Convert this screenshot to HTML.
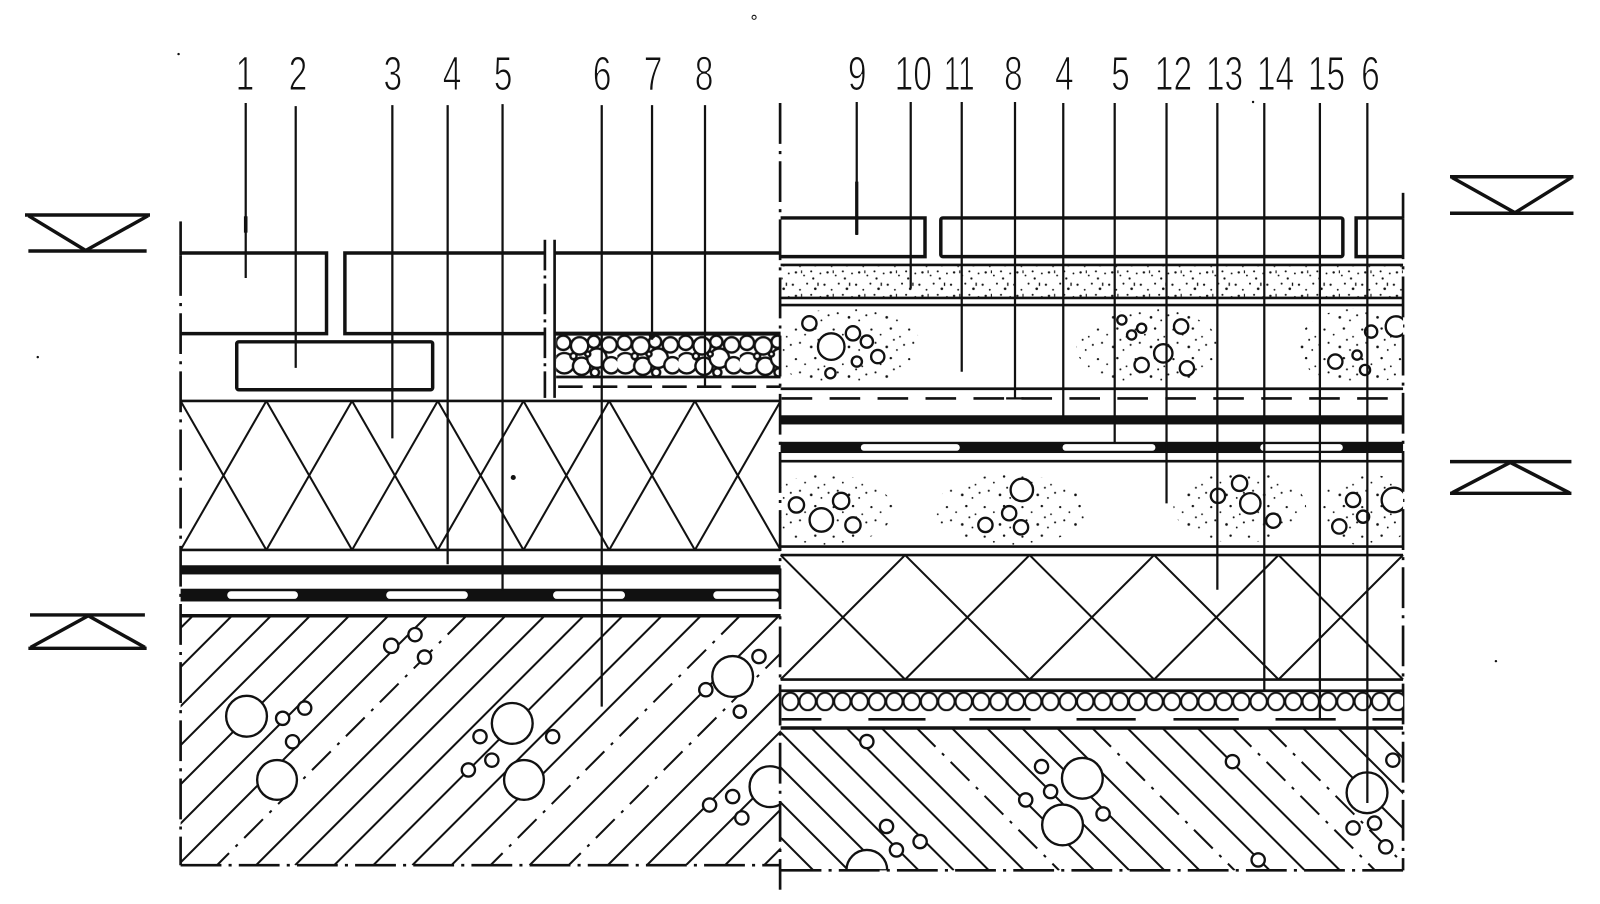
<!DOCTYPE html>
<html><head><meta charset="utf-8">
<style>
html,body{margin:0;padding:0;background:#fff;}
svg{display:block}
.s{stroke:#111;fill:none;stroke-width:2.6}
.t{stroke:#111;fill:none;stroke-width:3.4}
.l{stroke:#111;fill:none;stroke-width:2.2}
.dd{stroke-dasharray:40 7 3 7}
.h{stroke:#111;stroke-width:2;fill:none}
.hd{stroke:#111;stroke-width:2;fill:none;stroke-dasharray:26 9 3 9}
.c{fill:#fff;stroke:#111;stroke-width:2.3}
.lab{font-family:"Liberation Sans",sans-serif;font-size:47px;fill:#111;text-anchor:middle;stroke:#fff;stroke-width:1.1}
</style></head>
<body>
<svg width="1600" height="904" viewBox="0 0 1568 886" preserveAspectRatio="none" xmlns="http://www.w3.org/2000/svg">
<defs>
 <pattern id="st" x="0" y="0" width="37" height="29" patternUnits="userSpaceOnUse">
  <circle cx="3" cy="4" r="1.1" fill="#111"/><circle cx="12" cy="9" r="0.9" fill="#111"/>
  <circle cx="22" cy="3" r="1.2" fill="#111"/><circle cx="31" cy="11" r="0.9" fill="#111"/>
  <circle cx="7" cy="17" r="1" fill="#111"/><circle cx="18" cy="21" r="1.3" fill="#111"/>
  <circle cx="28" cy="24" r="0.9" fill="#111"/><circle cx="35" cy="19" r="1" fill="#111"/>
  <circle cx="25" cy="14" r="1" fill="#111"/>
 </pattern>
 <pattern id="sd" x="0" y="0" width="31" height="23" patternUnits="userSpaceOnUse">
  <circle cx="2" cy="3" r="1.1" fill="#111"/><circle cx="9" cy="8" r="0.9" fill="#111"/>
  <circle cx="16" cy="2" r="1" fill="#111"/><circle cx="24" cy="7" r="1.3" fill="#111"/>
  <circle cx="29" cy="15" r="0.9" fill="#111"/><circle cx="5" cy="14" r="1.2" fill="#111"/>
  <circle cx="13" cy="17" r="0.9" fill="#111"/><circle cx="20" cy="13" r="1" fill="#111"/>
  <circle cx="22" cy="20" r="1.1" fill="#111"/>
  <rect x="26" y="1" width="1.3" height="3.2" fill="#111"/><rect x="10" y="12" width="1.1" height="2.8" fill="#111"/>
 </pattern>
 <pattern id="gr" x="545" y="327" width="60" height="42" patternUnits="userSpaceOnUse">
  <rect x="0" y="0" width="60" height="42" fill="#fff"/>
  <g fill="#fff" stroke="#111" stroke-width="2.4">
   <circle cx="7" cy="9" r="7"/><circle cx="8" cy="29" r="10"/>
   <circle cx="23" cy="12" r="8.5"/><circle cx="25" cy="32" r="8.5"/><circle cx="17" cy="22" r="3"/>
   <circle cx="37" cy="8" r="6"/><circle cx="40" cy="24" r="9.5"/><circle cx="38" cy="38" r="4"/>
   <circle cx="52" cy="11" r="7.5"/><circle cx="54" cy="31" r="8"/>
   <circle cx="31" cy="20" r="2.5"/>
  </g>
 </pattern>
 <pattern id="bd" x="766" y="678" width="17" height="19" patternUnits="userSpaceOnUse">
  <ellipse cx="8.5" cy="9.5" rx="8" ry="8.6" fill="#fff" stroke="#111" stroke-width="2"/>
 </pattern>
 <clipPath id="cLC"><rect x="177" y="603.5" width="588" height="244.5"/></clipPath>
 <clipPath id="cRC"><rect x="765" y="713.5" width="610" height="139.5"/></clipPath>
 <clipPath id="c11"><rect x="766" y="300" width="609" height="80"/></clipPath>
 <clipPath id="c12"><rect x="766" y="453" width="609" height="82"/></clipPath>
</defs>

<rect x="0" y="0" width="1568" height="886" fill="#fff"/>

<!-- ===== LABELS ===== -->
<g class="lab">
 <text transform="translate(240,88) scale(0.7,1)">1</text>
 <text transform="translate(292,88) scale(0.7,1)">2</text>
 <text transform="translate(385,88) scale(0.7,1)">3</text>
 <text transform="translate(443,88) scale(0.7,1)">4</text>
 <text transform="translate(493,88) scale(0.7,1)">5</text>
 <text transform="translate(590,88) scale(0.7,1)">6</text>
 <text transform="translate(640,88) scale(0.7,1)">7</text>
 <text transform="translate(690,88) scale(0.7,1)">8</text>
 <text transform="translate(840,88) scale(0.7,1)">9</text>
 <text transform="translate(895,88) scale(0.7,1)">10</text>
 <text transform="translate(940,88) scale(0.62,1)">11</text>
 <text transform="translate(993,88) scale(0.7,1)">8</text>
 <text transform="translate(1043,88) scale(0.7,1)">4</text>
 <text transform="translate(1098,88) scale(0.7,1)">5</text>
 <text transform="translate(1150,88) scale(0.7,1)">12</text>
 <text transform="translate(1200,88) scale(0.7,1)">13</text>
 <text transform="translate(1250,88) scale(0.7,1)">14</text>
 <text transform="translate(1300,88) scale(0.7,1)">15</text>
 <text transform="translate(1343,88) scale(0.7,1)">6</text>
</g>

<!-- ===== LEVEL SYMBOLS ===== -->
<g class="t" stroke-width="3">
 <line x1="24.5" y1="210.7" x2="147" y2="210.7"/>
 <line x1="27.8" y1="246" x2="143.7" y2="246"/>
 <polyline points="28,211.5 84,245.5 145,211.5"/>
 <line x1="29.4" y1="602.7" x2="142" y2="602.7"/>
 <line x1="27.8" y1="635.4" x2="143.7" y2="635.4"/>
 <polyline points="30,634.5 86.5,603.5 142,634.5"/>
 <line x1="1421" y1="173.2" x2="1542" y2="173.2"/>
 <line x1="1421" y1="209" x2="1542" y2="209"/>
 <polyline points="1423,174 1484.7,208.5 1540,174"/>
 <line x1="1421" y1="452.4" x2="1540" y2="452.4"/>
 <line x1="1421" y1="483.5" x2="1540" y2="483.5"/>
 <polyline points="1423,483 1480,453.2 1538,483"/>
</g>
<g fill="#111">
 <circle cx="739" cy="17" r="2" fill="none" stroke="#111" stroke-width="1"/>
 <circle cx="175" cy="53" r="1.2"/><circle cx="37" cy="350" r="1.2"/>
 <circle cx="1466" cy="648" r="1.2"/><circle cx="1228" cy="100" r="1.2"/>
</g>

<!-- ===== LEFT SECTION ===== -->
<line class="s" x1="177" y1="217" x2="177" y2="250"/>
<line class="s dd" x1="177" y1="250" x2="177" y2="848"/>
<polyline class="t" points="177,248 320,248 320,327 177,327"/>
<polyline class="t" points="534,248 338,248 338,327 534,327"/>
<rect class="t" x="232" y="335" width="192" height="47" rx="2"/>
<line class="t" x1="543.5" y1="248" x2="765" y2="248"/>
<line class="s" x1="534" y1="235" x2="534" y2="390" stroke-dasharray="30 5 3 5"/>
<line class="s" x1="543.5" y1="235" x2="543.5" y2="390"/>
<rect x="545" y="327" width="220" height="42" fill="url(#gr)"/>
<line x1="543.5" y1="327" x2="765" y2="327" stroke="#111" stroke-width="4"/>
<line class="s" x1="545" y1="369.5" x2="765" y2="369.5" stroke-width="2"/>
<line class="s" x1="547" y1="379" x2="765" y2="379" stroke-dasharray="24 10"/>
<line class="s" x1="177" y1="393" x2="765" y2="393"/>
<line class="s" x1="177" y1="539" x2="765" y2="539"/>
<g class="h" stroke-width="2.2">
 <line x1="177" y1="393" x2="261" y2="539"/><line x1="261" y1="393" x2="177" y2="539"/>
 <line x1="261" y1="393" x2="345" y2="539"/><line x1="345" y1="393" x2="261" y2="539"/>
 <line x1="345" y1="393" x2="429" y2="539"/><line x1="429" y1="393" x2="345" y2="539"/>
 <line x1="429" y1="393" x2="513" y2="539"/><line x1="513" y1="393" x2="429" y2="539"/>
 <line x1="513" y1="393" x2="597" y2="539"/><line x1="597" y1="393" x2="513" y2="539"/>
 <line x1="597" y1="393" x2="681" y2="539"/><line x1="681" y1="393" x2="597" y2="539"/>
 <line x1="681" y1="393" x2="765" y2="539"/><line x1="765" y1="393" x2="681" y2="539"/>
</g>
<circle cx="503" cy="468" r="2.5" fill="#111"/>
<rect x="177" y="554" width="588" height="9" fill="#111"/>
<rect x="177" y="577" width="588" height="12.5" fill="#111"/>
<g fill="#fff">
 <rect x="222.7" y="579.5" width="69.3" height="7.5" rx="3.7"/>
 <rect x="378.5" y="579.5" width="80" height="7.5" rx="3.7"/>
 <rect x="542" y="579.5" width="70.5" height="7.5" rx="3.7"/>
 <rect x="699" y="579.5" width="64" height="7.5" rx="3.7"/>
</g>
<line class="t" x1="177" y1="603.5" x2="765" y2="603.5" stroke-width="3"/>
<g clip-path="url(#cLC)">
 <line class="h" x1="189" y1="603.5" x2="-55.5" y2="848"/>
 <line class="h" x1="227.3" y1="603.5" x2="-17.2" y2="848"/>
 <line class="h" x1="265.6" y1="603.5" x2="21.1" y2="848"/>
 <line class="h" x1="303.9" y1="603.5" x2="59.4" y2="848"/>
 <line class="h" x1="342.2" y1="603.5" x2="97.7" y2="848"/>
 <line class="h" x1="380.5" y1="603.5" x2="136" y2="848"/>
 <line class="h" x1="418.8" y1="603.5" x2="174.3" y2="848"/>
 <line class="hd" x1="457.1" y1="603.5" x2="212.6" y2="848"/>
 <line class="h" x1="495.4" y1="603.5" x2="250.9" y2="848"/>
 <line class="h" x1="533.7" y1="603.5" x2="289.2" y2="848"/>
 <line class="h" x1="572" y1="603.5" x2="327.5" y2="848"/>
 <line class="h" x1="610.3" y1="603.5" x2="365.8" y2="848"/>
 <line class="h" x1="648.6" y1="603.5" x2="404.1" y2="848"/>
 <line class="h" x1="686.9" y1="603.5" x2="442.4" y2="848"/>
 <line class="hd" x1="725.2" y1="603.5" x2="480.7" y2="848"/>
 <line class="h" x1="763.5" y1="603.5" x2="519" y2="848"/>
 <line class="hd" x1="801.8" y1="603.5" x2="557.3" y2="848"/>
 <line class="h" x1="840.1" y1="603.5" x2="595.6" y2="848"/>
 <line class="h" x1="878.4" y1="603.5" x2="633.9" y2="848"/>
 <line class="h" x1="916.7" y1="603.5" x2="672.2" y2="848"/>
 <line class="h" x1="955" y1="603.5" x2="710.5" y2="848"/>
 <line class="h" x1="993.3" y1="603.5" x2="748.8" y2="848"/>
 <g class="c">
  <circle cx="241.6" cy="702" r="20"/><circle cx="271.5" cy="764.4" r="19.5"/>
  <circle cx="502" cy="709" r="20"/><circle cx="513.5" cy="764.4" r="19.5"/>
  <circle cx="718" cy="663" r="20"/><circle cx="754.6" cy="771" r="20"/>
  <circle cx="277" cy="704" r="6.5"/><circle cx="298.6" cy="694" r="6.5"/><circle cx="286.7" cy="727" r="6.5"/>
  <circle cx="383.4" cy="633" r="7"/><circle cx="406.7" cy="622" r="6.5"/><circle cx="416" cy="644" r="6.5"/>
  <circle cx="470.4" cy="722" r="6.5"/><circle cx="482" cy="745" r="6.5"/><circle cx="459" cy="754.6" r="6.5"/>
  <circle cx="541.6" cy="722" r="6.5"/><circle cx="691.7" cy="676" r="6.5"/><circle cx="743.8" cy="643.5" r="6.5"/>
  <circle cx="725" cy="697.5" r="6"/><circle cx="695.4" cy="789" r="6.5"/><circle cx="718" cy="780.7" r="6.5"/>
  <circle cx="727" cy="801.6" r="6.5"/>
 </g>
</g>
<line class="s dd" x1="177" y1="848" x2="765" y2="848"/>

<!-- ===== RIGHT SECTION ===== -->
<line class="s" x1="1375" y1="189" x2="1375" y2="214"/>
<line class="s dd" x1="1375" y1="214" x2="1375" y2="853"/>
<polyline class="t" points="765,213.6 906.5,213.6 906.5,251.5 765,251.5"/>
<rect class="t" x="922" y="213.6" width="394" height="37.9" rx="2"/>
<polyline class="t" points="1375,213.6 1329,213.6 1329,251.5 1375,251.5"/>
<rect x="766" y="261" width="609" height="30" fill="url(#sd)"/>
<line class="s" x1="765" y1="259.7" x2="1375" y2="259.7" stroke-width="2"/>
<line class="s" x1="765" y1="292" x2="1375" y2="292" stroke-width="2"/>
<line class="s" x1="765" y1="299" x2="1375" y2="299"/>
<g clip-path="url(#c11)">
 <ellipse cx="828" cy="340" rx="75" ry="38" fill="url(#st)"/>
 <ellipse cx="1125" cy="340" rx="70" ry="38" fill="url(#st)"/>
 <ellipse cx="1330" cy="340" rx="58" ry="38" fill="url(#st)"/>
 <g class="c">
  <circle cx="793.2" cy="316.9" r="7"/><circle cx="814.6" cy="339.7" r="13"/><circle cx="835.9" cy="326.7" r="7"/>
  <circle cx="849.5" cy="334.8" r="6"/><circle cx="860.2" cy="349.5" r="6.5"/><circle cx="839.7" cy="354.4" r="5"/>
  <circle cx="813.8" cy="365.8" r="5"/>
  <circle cx="1099.4" cy="313.6" r="4.5"/><circle cx="1118.8" cy="321.7" r="4.5"/><circle cx="1109" cy="328.3" r="4.5"/>
  <circle cx="1157.5" cy="320" r="7"/><circle cx="1140" cy="346.3" r="9"/><circle cx="1118.8" cy="357.7" r="7"/>
  <circle cx="1163.2" cy="361" r="7"/>
  <circle cx="1308.6" cy="354.4" r="7"/><circle cx="1329.9" cy="348" r="4.5"/><circle cx="1337.7" cy="362.6" r="5"/>
  <circle cx="1343.7" cy="325" r="6"/><circle cx="1368" cy="320" r="10"/>
 </g>
</g>
<line class="s" x1="765" y1="381" x2="1375" y2="381"/>
<line class="s" x1="766" y1="390.5" x2="1375" y2="390.5" stroke-dasharray="30 17"/>
<rect x="765" y="407" width="610" height="9" fill="#111"/>
<rect x="765" y="433" width="610" height="11" fill="#111"/>
<g fill="#fff">
 <rect x="843.6" y="435.3" width="97" height="6.5" rx="3.2"/>
 <rect x="1041.3" y="435.3" width="91" height="6.5" rx="3.2"/>
 <rect x="1235" y="435.3" width="81" height="6.5" rx="3.2"/>
</g>
<line class="s" x1="765" y1="452" x2="1375" y2="452"/>
<g clip-path="url(#c12)">
 <ellipse cx="810" cy="500" rx="65" ry="35" fill="url(#st)"/>
 <ellipse cx="990" cy="500" rx="75" ry="35" fill="url(#st)"/>
 <ellipse cx="1215" cy="497" rx="65" ry="35" fill="url(#st)"/>
 <ellipse cx="1340" cy="500" rx="48" ry="35" fill="url(#st)"/>
 <g class="c">
  <circle cx="780.5" cy="494.9" r="7.5"/><circle cx="804.9" cy="509.6" r="11.5"/><circle cx="824.3" cy="491" r="8"/>
  <circle cx="835.9" cy="514.5" r="7.5"/>
  <circle cx="1001.4" cy="480.2" r="11"/><circle cx="989" cy="503" r="7"/><circle cx="1000.6" cy="516.8" r="7"/>
  <circle cx="965.7" cy="514.5" r="7"/>
  <circle cx="1193.6" cy="486" r="7"/><circle cx="1214.8" cy="473.7" r="7.5"/><circle cx="1225.3" cy="493.3" r="10"/>
  <circle cx="1247.8" cy="510.3" r="7"/>
  <circle cx="1326" cy="490" r="7"/><circle cx="1312.5" cy="516" r="7"/><circle cx="1335.8" cy="506.4" r="6"/>
  <circle cx="1366" cy="490" r="12"/>
 </g>
</g>
<line class="s" x1="765" y1="535.7" x2="1375" y2="535.7"/>
<line class="s" x1="765" y1="544" x2="1375" y2="544"/>
<line class="s" x1="765" y1="666" x2="1375" y2="666"/>
<g class="h" stroke-width="2.2">
 <line x1="765" y1="544" x2="887" y2="666"/><line x1="887" y1="544" x2="765" y2="666"/>
 <line x1="887" y1="544" x2="1009" y2="666"/><line x1="1009" y1="544" x2="887" y2="666"/>
 <line x1="1009" y1="544" x2="1131" y2="666"/><line x1="1131" y1="544" x2="1009" y2="666"/>
 <line x1="1131" y1="544" x2="1253" y2="666"/><line x1="1253" y1="544" x2="1131" y2="666"/>
 <line x1="1253" y1="544" x2="1375" y2="666"/><line x1="1375" y1="544" x2="1253" y2="666"/>
</g>
<line class="s" x1="765" y1="677" x2="1375" y2="677" stroke-width="2"/>
<rect x="766" y="678" width="609" height="19" fill="url(#bd)"/>
<g class="s">
 <line x1="766" y1="705" x2="805" y2="705"/><line x1="851" y1="705" x2="907" y2="705"/>
 <line x1="950" y1="705" x2="1010" y2="705"/><line x1="1055" y1="705" x2="1113" y2="705"/>
 <line x1="1150" y1="705" x2="1214" y2="705"/><line x1="1250" y1="705" x2="1309" y2="705"/>
 <line x1="1345" y1="705" x2="1375" y2="705"/>
</g>
<line class="t" x1="765" y1="713.5" x2="1375" y2="713.5" stroke-width="3"/>
<g clip-path="url(#cRC)">
 <line class="h" x1="657.6" y1="713.5" x2="797.1" y2="853"/>
 <line class="h" x1="692" y1="713.5" x2="831.5" y2="853"/>
 <line class="h" x1="726.4" y1="713.5" x2="865.9" y2="853"/>
 <line class="h" x1="760.8" y1="713.5" x2="900.3" y2="853"/>
 <line class="h" x1="795.2" y1="713.5" x2="934.7" y2="853"/>
 <line class="h" x1="829.6" y1="713.5" x2="969.1" y2="853"/>
 <line class="h" x1="864" y1="713.5" x2="1003.5" y2="853"/>
 <line class="hd" x1="898.4" y1="713.5" x2="1037.9" y2="853"/>
 <line class="h" x1="932.8" y1="713.5" x2="1072.3" y2="853"/>
 <line class="h" x1="967.2" y1="713.5" x2="1106.7" y2="853"/>
 <line class="h" x1="1001.6" y1="713.5" x2="1141.1" y2="853"/>
 <line class="h" x1="1036" y1="713.5" x2="1175.5" y2="853"/>
 <line class="hd" x1="1070.4" y1="713.5" x2="1209.9" y2="853"/>
 <line class="h" x1="1104.8" y1="713.5" x2="1244.3" y2="853"/>
 <line class="h" x1="1139.2" y1="713.5" x2="1278.7" y2="853"/>
 <line class="h" x1="1173.6" y1="713.5" x2="1313.1" y2="853"/>
 <line class="hd" x1="1208" y1="713.5" x2="1347.5" y2="853"/>
 <line class="hd" x1="1242.4" y1="713.5" x2="1381.9" y2="853"/>
 <line class="h" x1="1276.8" y1="713.5" x2="1416.3" y2="853"/>
 <line class="h" x1="1311.2" y1="713.5" x2="1450.7" y2="853"/>
 <line class="h" x1="1345.6" y1="713.5" x2="1485.1" y2="853"/>
 <g class="c">
  <circle cx="849.5" cy="726.8" r="6.5"/><circle cx="1060.7" cy="762.8" r="20"/><circle cx="1041.3" cy="808.5" r="20"/>
  <circle cx="1020.7" cy="751.3" r="6.5"/><circle cx="1029.6" cy="775.8" r="6.5"/><circle cx="1005.2" cy="784" r="6.5"/>
  <circle cx="1081" cy="797.7" r="6.5"/><circle cx="1207.8" cy="746.5" r="6.5"/><circle cx="1233" cy="842.8" r="6.5"/>
  <circle cx="868.8" cy="810" r="6.5"/><circle cx="878.5" cy="833" r="6.5"/><circle cx="901.7" cy="824.8" r="6.5"/>
  <circle cx="1339.7" cy="777" r="20"/><circle cx="1326" cy="811.5" r="6.5"/><circle cx="1347" cy="806.7" r="6.5"/>
  <circle cx="1358" cy="830" r="6.5"/><circle cx="1365" cy="745" r="6.5"/>
  <path d="M829.5,853 A20,20 0 0 1 869.5,853 Z"/>
 </g>
</g>
<line class="s dd" x1="765" y1="853" x2="1375" y2="853"/>

<line class="s dd" x1="764.5" y1="101" x2="764.5" y2="872"/>

<!-- ===== LEADERS ===== -->
<g class="l">
 <line x1="240.8" y1="101" x2="240.8" y2="272.5"/>
 <line x1="240.8" y1="212" x2="240.8" y2="228" stroke-width="3.5"/>
 <line x1="289.8" y1="104" x2="289.8" y2="360.6"/>
 <line x1="384.5" y1="103" x2="384.5" y2="429.6"/>
 <line x1="438.7" y1="103" x2="438.7" y2="553"/>
 <line x1="492.5" y1="102" x2="492.5" y2="579"/>
 <line x1="589.7" y1="103" x2="589.7" y2="692.5"/>
 <line x1="639" y1="103" x2="639" y2="333"/>
 <line x1="690.9" y1="103" x2="690.9" y2="379"/>
 <line x1="684" y1="379" x2="698" y2="379"/>
 <line x1="839.6" y1="100" x2="839.6" y2="230.3"/>
 <line x1="839.6" y1="178" x2="839.6" y2="230" stroke-width="3.2"/>
 <line x1="892.5" y1="100" x2="892.5" y2="282.6"/>
 <line x1="942.5" y1="100" x2="942.5" y2="364.3"/>
 <line x1="994.7" y1="100" x2="994.7" y2="390.5"/>
 <line x1="986" y1="390.5" x2="1003" y2="390.5"/>
 <line x1="1042" y1="101" x2="1042" y2="408"/>
 <line x1="1092.4" y1="101" x2="1092.4" y2="434.5"/>
 <line x1="1143.2" y1="101" x2="1143.2" y2="493.3"/>
 <line x1="1193" y1="101" x2="1193" y2="578"/>
 <line x1="1239" y1="101" x2="1239" y2="678"/>
 <line x1="1293.5" y1="101" x2="1293.5" y2="705"/>
 <line x1="1286" y1="705" x2="1301" y2="705"/>
 <line x1="1340" y1="101" x2="1340" y2="787"/>
</g>
<circle cx="639" cy="329" r="3.2" fill="#111"/>
</svg>
</body></html>
